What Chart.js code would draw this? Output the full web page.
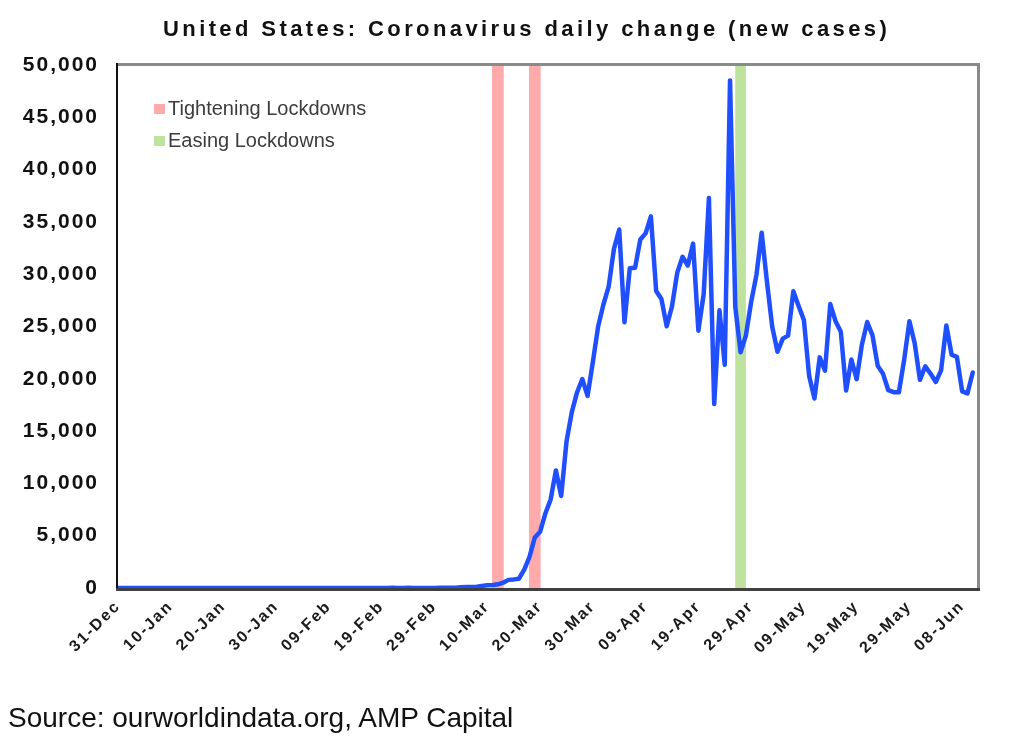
<!DOCTYPE html>
<html>
<head>
<meta charset="utf-8">
<script src="https://cdn.jsdelivr.net/npm/chart.js@4.4.1/dist/chart.umd.min.js"></script>
<style>
  html, body { margin: 0; padding: 0; background: #ffffff; }
  #wrap { position: relative; width: 1024px; height: 746px; overflow: hidden; background: #fff; }
  #c { position: absolute; left: 0; top: 0; }
  #title { position: absolute; left: 163px; top: 18px; white-space: nowrap;
    font: bold 22px/22px "Liberation Sans", Arial, sans-serif; letter-spacing: 3.4px; color: #111; }
  .leg { position: absolute; left: 154px; white-space: nowrap;
    font: 20px/20px "Liberation Sans", Arial, sans-serif; color: #3c3c3c; }
  .leg i { display: inline-block; width: 11px; height: 10px; margin-right: 3px; vertical-align: 1px; }
  #source { position: absolute; left: 8px; top: 704px; white-space: nowrap;
    font: 28px/28px "Liberation Sans", Arial, sans-serif; color: #111; }
</style>
</head>
<body>
<div id="wrap">
  <canvas id="c" width="1024" height="746"></canvas>
  <div id="title">United States: Coronavirus daily change (new cases)</div>
  <div id="legend"></div>
  <div id="source">Source: ourworldindata.org, AMP Capital</div>
</div>
<script>
// ---------- data ----------
const tickLabels = ['31-Dec','10-Jan','20-Jan','30-Jan','09-Feb','19-Feb','29-Feb','10-Mar',
  '20-Mar','30-Mar','09-Apr','19-Apr','29-Apr','09-May','19-May','29-May','08-Jun'];

// daily new cases, in plotted order (one value per category position)
const casesJan = [0,0,0,0,0,0,0,0,0,0,0,0,0,0,0,0,0,0,0,0,0,1,0,0,1,0,3,0,0,0,1];
const casesFeb = [0,2,3,0,0,0,1,0,0,0,0,1,1,1,0,1,0,0,0,0,0,19,0,0,18,0,0,6,1];
const casesMar = [3,20,14,22,34,74,105,95,121,200,271,287,351,511,777,823,887,1766,2988,
  4835,5374,7123,8459,11236,8789,13963,16797,18695,19979,18360,21595];
const casesApr = [24998,27103,28819,32425,34272,25398,30561,30613,33323,33901,35527,28391,
  27620,25023,26922,30148,31667,30833,32922,24601,28065,37289,17588,26543,21352,48529,
  26857,22541,24132,27326];
const casesMay = [29917,33955,29288,24972,22593,23841,24128,28369,26957,25612,20258,18117,
  22048,20782,27143,25508,24487,18873,21841,19970,23285,25434,24147,21236,20475,18910,
  18721,18707,21800,25500,23400];
const casesJun = [19900,21200,20500,19700,20800,25100,22300,22100,18800,18600,20600];

const tighteningDays = ['12-Mar','19-Mar'];
const easingDays = ['27-Apr'];

const Y_MAX = 50000;
const Y_STEP = 5000;

// ---------- build ----------
const monthNames = ['Jan','Feb','Mar','Apr','May','Jun','Jul','Aug','Sep','Oct','Nov','Dec'];
const categories = [];
for (let i = 0; i < 164; i++) {
  const d = new Date(Date.UTC(2019, 11, 31 + i));
  categories.push(String(d.getUTCDate()).padStart(2, '0') + '-' + monthNames[d.getUTCMonth()]);
}
const cases = [].concat(casesJan, casesFeb, casesMar, casesApr, casesMay, casesJun);
const tightData = categories.map(c => tighteningDays.includes(c) ? Y_MAX : null);
const easeData = categories.map(c => easingDays.includes(c) ? Y_MAX : null);

const spacingPlugin = {
  id: 'spacing',
  beforeLayout(c) { c.ctx.letterSpacing = '2px'; },
  beforeDraw(c) { c.ctx.letterSpacing = '2px'; }
};

const framePlugin = {
  id: 'frame',
  afterDatasetsDraw(c) {
    const { left, top, right, bottom } = c.chartArea;
    const ctx = c.ctx;
    ctx.save();
    ctx.lineWidth = 3;
    ctx.strokeStyle = '#8a8a8a';
    ctx.beginPath();
    ctx.moveTo(left, top - 0.5); ctx.lineTo(right + 2, top - 0.5);
    ctx.moveTo(right + 0.5, top - 2); ctx.lineTo(right + 0.5, bottom);
    ctx.stroke();
    ctx.lineWidth = 2;
    ctx.strokeStyle = '#111111';
    ctx.beginPath();
    ctx.moveTo(left - 1, top - 2); ctx.lineTo(left - 1, bottom + 2);
    ctx.stroke();
    ctx.lineWidth = 3;
    ctx.strokeStyle = '#404040';
    ctx.beginPath();
    ctx.moveTo(left - 2, bottom + 1.5); ctx.lineTo(right + 2, bottom + 1.5);
    ctx.stroke();
    ctx.restore();
  }
};

const chart = new Chart(document.getElementById('c'), {
  type: 'line',
  data: {
    labels: categories,
    datasets: [
      { type: 'line', label: 'New cases', data: cases, borderColor: '#1f4fff', backgroundColor: '#1f4fff',
        borderWidth: 4.5, pointRadius: 0, tension: 0, borderJoinStyle: 'round', borderCapStyle: 'round',
        order: 0 },
      { type: 'bar', label: 'Tightening Lockdowns', data: tightData, backgroundColor: '#ffabab',
        barThickness: 11, grouped: false, order: 1 },
      { type: 'bar', label: 'Easing Lockdowns', data: easeData, backgroundColor: '#bfe29f',
        barThickness: 10, grouped: false, order: 1 }
    ]
  },
  options: {
    responsive: false,
    animation: false,
    devicePixelRatio: 1,
    layout: { padding: { left: 0, right: 46, top: 65, bottom: 0 } },
    plugins: { legend: { display: false }, title: { display: false }, tooltip: { enabled: false } },
    scales: {
      x: {
        type: 'category', offset: false,
        grid: { display: false, drawTicks: false, offset: false },
        border: { display: false },
        ticks: {
          autoSkip: false, maxRotation: 45, minRotation: 45, padding: 9, color: '#1a1a1a',
          font: { family: 'Liberation Sans', weight: 'bold', size: 16 },
          callback: function (v) { const l = this.getLabelForValue(v); return tickLabels.includes(l) ? l : null; }
        },
        afterFit: s => { s.height = 158; }
      },
      y: {
        min: 0, max: Y_MAX,
        grid: { display: false, drawTicks: false },
        border: { display: false },
        ticks: {
          stepSize: Y_STEP, padding: 19, color: '#111',
          font: { family: 'Liberation Sans', weight: 'bold', size: 21 },
          callback: v => v.toLocaleString('en-US')
        },
        afterFit: s => { s.width = 118; }
      }
    }
  },
  plugins: [spacingPlugin, framePlugin]
});

// HTML legend built from the bar datasets
const legendEl = document.getElementById('legend');
chart.data.datasets.filter(d => d.type === 'bar').forEach((d, i) => {
  const div = document.createElement('div');
  div.className = 'leg';
  div.style.top = (98 + i * 32) + 'px';
  div.innerHTML = '<i style="background:' + d.backgroundColor + '"></i>' + d.label;
  legendEl.appendChild(div);
});
</script>
</body>
</html>
